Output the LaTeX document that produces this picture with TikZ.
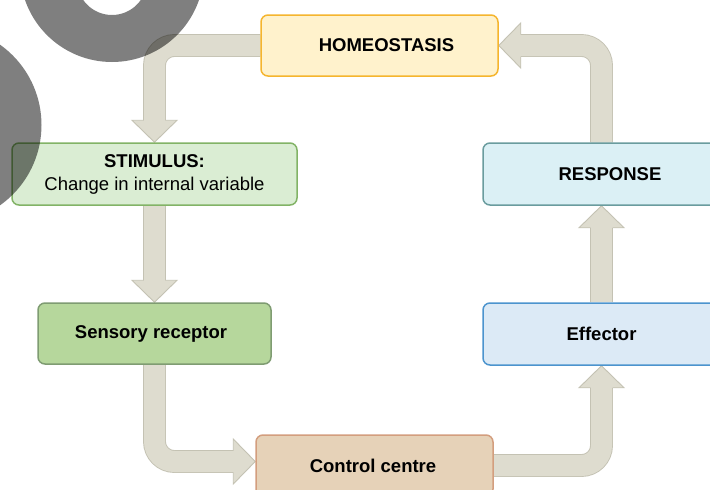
\documentclass[tikz,border=0pt]{standalone}
\usepackage{fontspec}
\setmainfont{Liberation Sans}
\usetikzlibrary{calc}
\definecolor{arrfill}{HTML}{DEDCCF}
\definecolor{arrline}{HTML}{C4C2B3}
\definecolor{homeofill}{HTML}{FFF2CC}
\definecolor{homeoline}{HTML}{F5B52E}
\definecolor{stimfill}{HTML}{DAEDD3}
\definecolor{stimline}{HTML}{82B366}
\definecolor{sensfill}{HTML}{B6D79C}
\definecolor{sensline}{HTML}{7F9C72}
\definecolor{ctrlfill}{HTML}{E6D2B8}
\definecolor{ctrlline}{HTML}{D39E7E}
\definecolor{efffill}{HTML}{DCEAF6}
\definecolor{effline}{HTML}{4C94CE}
\definecolor{respfill}{HTML}{DBF0F5}
\definecolor{respline}{HTML}{6A9C9E}
\pgfdeclarelayer{arrlayer}
\pgfsetlayers{arrlayer,main}
\tikzset{
  box/.style={draw, line width=1.5pt, rounded corners=7pt, minimum height=61pt,
    inner sep=0pt, align=center, text=black,
    font=\fontsize{18.5}{23}\selectfont\bfseries},
  shaft/.style={draw=arrline, line width=0.9pt, double=arrfill,
    double distance=21pt, rounded corners=20pt},
  headst/.style={fill=arrfill, draw=arrline, line width=0.9pt, line join=miter},
  blot/.style={fill=black, opacity=0.5, even odd rule},
}
\newcommand\fathead[2]{%
  \filldraw[headst, shift={(#1)}, rotate=#2]
    (-22,-11) -- (-22,-22.5) -- (0,0) -- (-22,22.5) -- (-22,11);}
\begin{document}
\begin{tikzpicture}[x=1pt,y=-1pt]
\useasboundingbox (0,0) rectangle (710,490);
\clip (0,0) rectangle (710,490);
% nodes
\node[box, fill=homeofill, draw=homeoline, minimum width=237pt] (homeo) at (379.5,45.5) {\hspace*{14pt}HOMEOSTASIS};
\node[box, fill=stimfill, draw=stimline, minimum width=285pt, minimum height=62pt] (stim) at (154.5,174) {STIMULUS:\\\mdseries Change in internal variable};
\node[box, fill=sensfill, draw=sensline, minimum width=233pt] (sens) at (154.5,333.5) {Sensory receptor\hspace*{7pt}};
\node[box, fill=ctrlfill, draw=ctrlline, minimum width=237pt] (ctrl) at (374.5,465.5) {Control centre\hspace*{3pt}};
\node[box, fill=efffill, draw=effline, minimum width=237pt, minimum height=62pt] (eff) at (601.5,334) {Effector};
\node[box, fill=respfill, draw=respline, minimum width=254pt, minimum height=62pt] (resp) at (610,174) {RESPONSE};
% arrow anchor points
\coordinate (a1) at (stim.north);
\coordinate (a2) at (sens.north);
\coordinate (a3) at ($(ctrl.west)+(0,-4)$);
\coordinate (a4) at (eff.south);
\coordinate (a5) at (eff.north |- resp.south);
\coordinate (a6) at (homeo.east);
% arrows behind boxes
\begin{pgfonlayer}{arrlayer}
  \fill[white] (0,0) rectangle (710,490);
  \draw[shaft] (homeo.west) -| ($(a1)+(0,-21)$);
  \fathead{a1}{270}
  \draw[shaft] (stim.south) -- ($(a2)+(0,-21)$);
  \fathead{a2}{270}
  \draw[shaft] (sens.south) |- ($(a3)+(-21,0)$);
  \fathead{a3}{0}
  \draw[shaft] (ctrl.east) -| ($(a4)+(0,21)$);
  \fathead{a4}{90}
  \draw[shaft] (eff.north) -- ($(a5)+(0,21)$);
  \fathead{a5}{90}
  \draw[shaft] (eff.north |- resp.north) |- ($(a6)+(21,0)$);
  \fathead{a6}{180}
\end{pgfonlayer}
% grey blots on top
\fill[blot] (112,-30) circle (92pt) (112,-20) circle (35pt);
\fill[blot] (-57,125) circle (98.5pt);
\end{tikzpicture}
\end{document}
